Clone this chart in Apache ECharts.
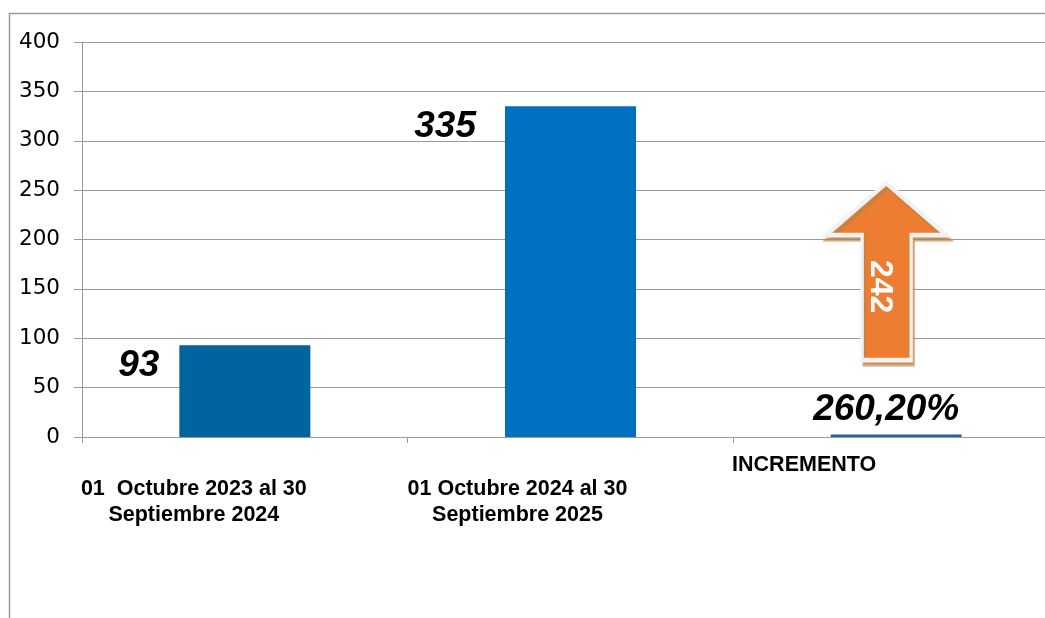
<!DOCTYPE html>
<html>
<head>
<meta charset="utf-8">
<script src="https://cdn.jsdelivr.net/npm/echarts@6/dist/echarts.min.js"></script>
<style>
  html, body { margin: 0; padding: 0; background: #fff; }
  #chart { width: 1045px; height: 618px; }
</style>
</head>
<body>
<div id="chart"></div>
<script>
// datos
var categorias = [
  "01  Octubre 2023 al 30\nSeptiembre 2024",
  "01 Octubre 2024 al 30\nSeptiembre 2025",
  "INCREMENTO"
];
var valores = [93, 335, 2.602];
var etiquetas = ["93", "335", "260,20%"];
var incremento = [242];
var ticksY = [0, 50, 100, 150, 200, 250, 300, 350, 400];

var colores = ["#00659F", "#0070C0", "#1F63A3"];
// desplazamiento de textos (como en Excel)
var padCat = [[24, 102, 0, 0], [24, 106, 0, 0], [0, 184, 0, 0]];
var posEtiq = [
  { position: [-20, 2], align: "right", verticalAlign: "top" },
  { position: [-29, 2], align: "right", verticalAlign: "top" },
  { position: "top", distance: 6, offset: [-10, 0] }
];

var myChart = echarts.init(document.getElementById("chart"));

var option = {
  animation: false,
  graphic: [
    {
      type: "rect",
      left: 7,
      top: 11,
      shape: { width: 1200, height: 800 },
      style: { fill: null, stroke: "#9a9a9a", lineWidth: 1.5 },
      silent: true
    }
  ],
  grid: { left: 82, right: -14, top: 42, bottom: 181, outerBoundsMode: "none", containLabel: false },
  xAxis: {
    type: "category",
    data: categorias.map(function (c, i) {
      return { value: c, textStyle: { padding: padCat[i] } };
    }),
    axisLine: { lineStyle: { color: "#9a9a9a", width: 1 } },
    axisTick: { show: true, length: 6, lineStyle: { color: "#9a9a9a" } },
    axisLabel: {
      interval: 0,
      margin: 15,
      color: "#000",
      fontFamily: "Liberation Sans, Arial",
      fontWeight: "bold",
      fontSize: 21.5,
      lineHeight: 26,
      align: "center"
    }
  },
  yAxis: {
    type: "value",
    min: 0,
    max: 400,
    interval: 50,
    axisLine: { show: true, lineStyle: { color: "#9a9a9a" } },
    axisTick: { show: true, inside: false, length: 8, lineStyle: { color: "#9a9a9a" } },
    splitLine: { lineStyle: { color: "#9a9a9a", width: 1 } },
    axisLabel: {
      margin: 22,
      color: "#000",
      fontFamily: "DejaVu Sans",
      fontSize: 21.5,
      formatter: function (v) {
        return ticksY.indexOf(v) >= 0 ? String(v) : "";
      }
    }
  },
  series: [
    {
      type: "bar",
      barWidth: 131,
      data: valores.map(function (v, i) {
        return {
          value: v,
          itemStyle: { color: colores[i] },
          label: Object.assign({ show: true, formatter: etiquetas[i] }, posEtiq[i])
        };
      }),
      label: {
        color: "#000",
        fontFamily: "Liberation Sans, Arial",
        fontWeight: "bold",
        fontStyle: "italic",
        fontSize: 37
      },
      markPoint: {
        silent: true,
        symbol: "path://M60 0 L120 52 L85 52 L85 177 L36 177 L36 52 L0 52 Z",
        symbolSize: [120, 177],
        symbolOffset: [-10, 0],
        itemStyle: {
          color: "#ED7D31",
          borderColor: "#f2f2f2",
          borderWidth: 4,
          shadowColor: "rgba(190,130,70,0.7)",
          shadowOffsetX: 2,
          shadowOffsetY: 4,
          shadowBlur: 1
        },
        label: {
          show: true,
          position: "inside",
          formatter: String(incremento[0]),
          rotate: -90,
          offset: [15, 6],
          color: "#fff",
          fontFamily: "Liberation Sans, Arial",
          fontWeight: "bold",
          fontSize: 32
        },
        data: [{ coord: [2, 167.5] }]
      }
    }
  ]
};

myChart.setOption(option);
</script>
</body>
</html>
